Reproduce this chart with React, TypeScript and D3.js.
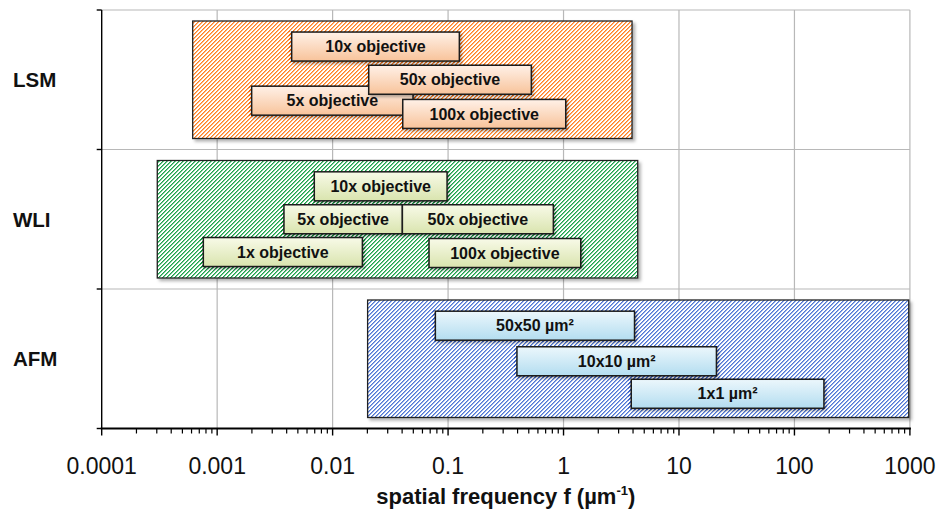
import React from "react";
import * as d3 from "d3";

// Measurement techniques (rows) and the spatial-frequency span each one covers (µm⁻¹)
const techniques = ["LSM", "WLI", "AFM"];
const techniqueLow = [0.000614, 0.000303, 0.0201];
const techniqueHigh = [3.92, 4.39, 977];

// Individual objectives / scan sizes inside each technique
const lsmLabels = ["10x objective", "5x objective", "50x objective", "100x objective"];
const lsmLow = [0.00442, 0.00199, 0.02055, 0.0405];
const lsmHigh = [0.1252, 0.0497, 0.526, 1.045];
const lsmLevel = [0.262, 0.65, 0.5, 0.745];

const wliLabels = ["10x objective", "5x objective", "50x objective", "1x objective", "100x objective"];
const wliLow = [0.00694, 0.00379, 0.0402, 0.000759, 0.0684];
const wliHigh = [0.098, 0.0402, 0.816, 0.0181, 1.41];
const wliLevel = [0.264, 0.5, 0.5, 0.735, 0.742];

const afmLabels = ["50x50 µm²", "10x10 µm²", "1x1 µm²"];
const afmLow = [0.0776, 0.395, 3.86];
const afmHigh = [4.12, 21.1, 180];
const afmLevel = [0.263, 0.518, 0.751];

const xTickValues = [0.0001, 0.001, 0.01, 0.1, 1, 10, 100, 1000];
const xTickLabels = ["0.0001", "0.001", "0.01", "0.1", "1", "10", "100", "1000"];

const W = 938;
const H = 511;
const left = 101.7;
const right = 909.9;
const top = 10;
const bottom = 428.5;

const theme: Record<string, { hatch: string; dark: string; top: string; bottom: string }> = {
  LSM: { hatch: "#ff8124", dark: "#ec5f00", top: "#fff1e8", bottom: "#f8c39a" },
  WLI: { hatch: "#1ea34c", dark: "#008a2a", top: "#f8fae8", bottom: "#d9e4ae" },
  AFM: { hatch: "#4f76d6", dark: "#2a52c0", top: "#ecf7fc", bottom: "#b3ddf0" },
};

type Item = { label: string; lo: number; hi: number; level: number };

const groups: Item[][] = [
  lsmLabels.map((label, i) => ({ label, lo: lsmLow[i], hi: lsmHigh[i], level: lsmLevel[i] })),
  wliLabels.map((label, i) => ({ label, lo: wliLow[i], hi: wliHigh[i], level: wliLevel[i] })),
  afmLabels.map((label, i) => ({ label, lo: afmLow[i], hi: afmHigh[i], level: afmLevel[i] })),
];

const FONT = "'Liberation Sans', Arial, Helvetica, sans-serif";

// pixel staircase for an upward diagonal hatch: two coloured pixels per row, period 4
const hatchCells: [number, number][] = [];
for (let r = 0; r < 4; r++) {
  hatchCells.push([(3 - r + 4) % 4, r], [(4 - r) % 4, r]);
}

export default function App() {
  const x = d3.scaleLog().domain([0.0001, 1000]).range([left, right]);
  const y = d3.scaleBand<string>().domain(techniques).range([top, bottom]).padding(0);
  const bw = y.bandwidth();
  const boxPad = 11;
  const innerH = 29;

  const minorTicks: number[] = [];
  for (let e = -4; e < 3; e++) {
    for (let m = 2; m <= 9; m++) minorTicks.push(m * Math.pow(10, e));
  }

  const bandEdges = [top, ...techniques.map((t) => (y(t) as number) + bw)];

  const pattern = (id: string, color: string, second: number) => (
    <pattern id={id} patternUnits="userSpaceOnUse" width={4} height={4}>
      <rect width={4} height={4} fill="#fff" />
      {hatchCells.map(([cx, cy], k) => (
        <rect
          key={k}
          x={cx}
          y={cy}
          width={1}
          height={1}
          fill={color}
          opacity={k % 2 === 0 ? 1 : second}
          shapeRendering="crispEdges"
        />
      ))}
    </pattern>
  );

  return (
    <svg
      width={W}
      height={H}
      style={{ position: "absolute", left: 0, top: 0, background: "#fff" }}
      fontFamily={FONT}
    >
      <defs>
        {techniques.map((t) => (
          <React.Fragment key={t}>
            {pattern(`hatch-${t}`, theme[t].hatch, 0.6)}
            {pattern(`dark-${t}`, theme[t].dark, 1)}
            <linearGradient id={`fill-${t}`} x1="0" y1="0" x2="0" y2="1">
              <stop offset="0" stopColor={theme[t].top} />
              <stop offset="1" stopColor={theme[t].bottom} />
            </linearGradient>
          </React.Fragment>
        ))}
        <filter id="bigShadow" x="-5%" y="-5%" width="110%" height="115%">
          <feDropShadow dx={2.5} dy={2.5} stdDeviation={1.6} floodColor="#000" floodOpacity={0.3} />
        </filter>
        <filter id="boxShadow" x="-10%" y="-20%" width="120%" height="150%">
          <feDropShadow dx={1.5} dy={2} stdDeviation={1.4} floodColor="#000" floodOpacity={0.3} />
        </filter>
      </defs>

      {/* grid */}
      <g stroke="#b8b8b8" strokeWidth={1.2}>
        {xTickValues.slice(1).map((v) => (
          <line key={v} x1={x(v)} x2={x(v)} y1={top} y2={bottom} />
        ))}
        {bandEdges.slice(0, 3).map((e, i) => (
          <line key={i} x1={left} x2={right} y1={e} y2={e} />
        ))}
      </g>

      {/* technique ranges and their sub-ranges */}
      {techniques.map((t, ti) => {
        const b0 = y(t) as number;
        const yy = d3.scaleLinear().domain([0, 1]).range([b0, b0 + bw]);
        const items = groups[ti];
        return (
          <g key={t}>
            <rect
              x={x(techniqueLow[ti])}
              y={b0 + boxPad}
              width={x(techniqueHigh[ti]) - x(techniqueLow[ti])}
              height={bw - 2 * boxPad}
              fill={`url(#hatch-${t})`}
              stroke="#222"
              strokeWidth={1.3}
              filter="url(#bigShadow)"
            />
            {items.map((d, i) => (
              <rect
                key={`g${i}`}
                x={x(d.lo) - 3}
                y={yy(d.level) - innerH / 2 - 1}
                width={x(d.hi) - x(d.lo) + 6}
                height={innerH + 3}
                fill={`url(#dark-${t})`}
                opacity={0.7}
              />
            ))}
            {items.map((d, i) => (
              <g key={`b${i}`}>
                <rect
                  x={x(d.lo)}
                  y={yy(d.level) - innerH / 2}
                  width={x(d.hi) - x(d.lo)}
                  height={innerH}
                  fill={`url(#fill-${t})`}
                  stroke="#1c1c1c"
                  strokeWidth={1.5}
                  filter="url(#boxShadow)"
                />
                <text
                  x={(x(d.lo) + x(d.hi)) / 2}
                  y={yy(d.level) + 5.6}
                  textAnchor="middle"
                  fontWeight="bold"
                  fontSize={16}
                  fill="#111"
                >
                  {d.label}
                </text>
              </g>
            ))}
          </g>
        );
      })}

      {/* y axis */}
      <g stroke="#000">
        <line x1={left} x2={left} y1={top} y2={bottom} strokeWidth={1.4} />
        {bandEdges.map((e, i) => (
          <line key={i} x1={left - 5} x2={left} y1={e} y2={e} strokeWidth={1.4} />
        ))}
      </g>
      {techniques.map((t) => (
        <text
          key={t}
          x={13}
          y={(y(t) as number) + bw / 2 + 7.5}
          fontSize={20.5}
          fontWeight="bold"
          fill="#111"
        >
          {t}
        </text>
      ))}

      {/* x axis */}
      <g stroke="#000">
        <line x1={left - 1} x2={right + 1} y1={bottom} y2={bottom} strokeWidth={2.2} />
        {xTickValues.map((v) => (
          <line key={v} x1={x(v)} x2={x(v)} y1={bottom} y2={bottom + 7} strokeWidth={1.4} />
        ))}
        {minorTicks.map((v) => (
          <line key={v} x1={x(v)} x2={x(v)} y1={bottom} y2={bottom + 5} strokeWidth={1.2} />
        ))}
      </g>
      {xTickValues.map((v, i) => (
        <text key={v} x={x(v)} y={474} textAnchor="middle" fontSize={23} fill="#111">
          {xTickLabels[i]}
        </text>
      ))}
      <text x={(left + right) / 2} y={504} textAnchor="middle" fontSize={22} fontWeight="bold" fill="#111">
        spatial frequency f (µm
        <tspan fontSize={13} dy={-9}>-1</tspan>
        <tspan dy={9}>)</tspan>
      </text>
    </svg>
  );
}
